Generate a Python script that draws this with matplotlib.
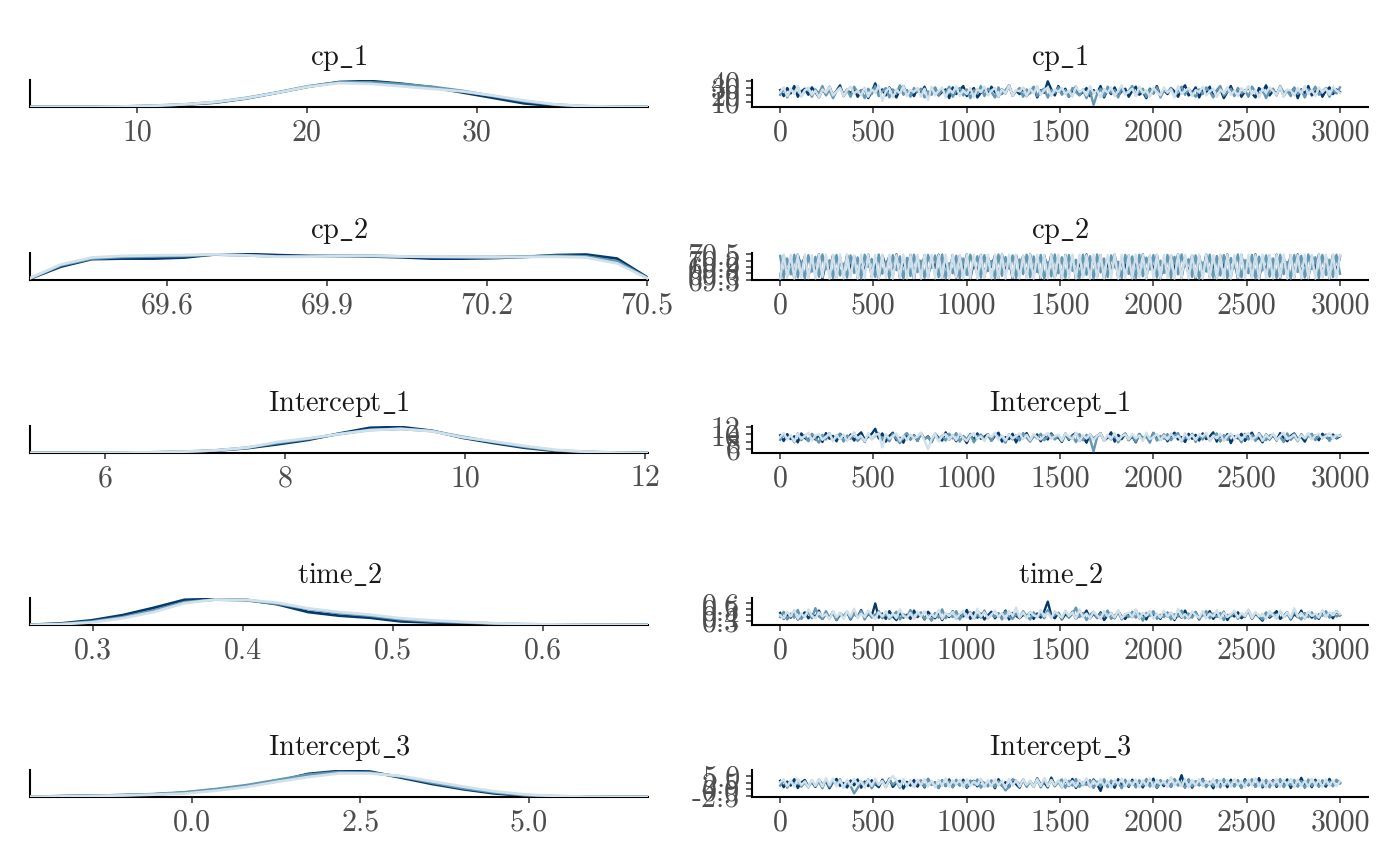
import numpy as np
import matplotlib
matplotlib.use("Agg")
import matplotlib.pyplot as plt

plt.rcParams['font.family'] = ['cmr10', 'DejaVu Serif']
plt.rcParams['mathtext.fontset'] = 'cm'
plt.rcParams['axes.unicode_minus'] = False

# ---------------- data ----------------
params = ["cp_1", "cp_2", "Intercept_1", "time_2", "Intercept_3"]
range_lo = [3.7, 69.342, 5.167, 0.258, -2.40]
range_hi = [40.1, 70.502, 12.03, 0.670, 6.77]

dens_xticks = [[10, 20, 30], [69.6, 69.9, 70.2, 70.5], [6, 8, 10, 12],
               [0.3, 0.4, 0.5, 0.6], [0.0, 2.5, 5.0]]
dens_xlabels = [["10", "20", "30"], ["69.6", "69.9", "70.2", "70.5"],
                ["6", "8", "10", "12"], ["0.3", "0.4", "0.5", "0.6"],
                ["0.0", "2.5", "5.0"]]
trace_xticks = [0, 500, 1000, 1500, 2000, 2500, 3000]
trace_yticks = [[10, 20, 30, 40], [69.3, 69.6, 69.9, 70.2, 70.5], [6, 8, 10, 12],
                [0.3, 0.4, 0.5, 0.6], [-2.5, 0.0, 2.5, 5.0]]
trace_ylabels = [["10", "20", "30", "40"], ["69.3", "69.6", "69.9", "70.2", "70.5"],
                 ["6", "8", "10", "12"], ["0.3", "0.4", "0.5", "0.6"],
                 ["-2.5", "0.0", "2.5", "5.0"]]

chain_colors = ["#03396c", "#6497b1", "#d1e1ec"]  # chain 1 (dark), 2 (mid), 3 (light)

# densities (relative heights, evenly spaced over each parameter's range)
dens_cp1_c1 = [0, 0, 0.005, 0.015, 0.04, 0.09, 0.17, 0.33, 0.55, 0.78, 0.96, 1.0, 0.9, 0.76, 0.56, 0.35, 0.14, 0.04, 0.01, 0.003, 0]
dens_cp1_c2 = [0, 0, 0.005, 0.02, 0.05, 0.1, 0.19, 0.35, 0.56, 0.8, 0.95, 0.95, 0.88, 0.78, 0.62, 0.42, 0.22, 0.09, 0.03, 0.01, 0]
dens_cp1_c3 = [0, 0.002, 0.006, 0.02, 0.05, 0.1, 0.19, 0.34, 0.55, 0.78, 0.92, 0.89, 0.8, 0.7, 0.6, 0.44, 0.25, 0.1, 0.03, 0.01, 0]

dens_cp2_c1 = [0.05, 0.5, 0.78, 0.8, 0.8, 0.84, 0.96, 0.97, 0.93, 0.9, 0.89, 0.88, 0.85, 0.8, 0.8, 0.82, 0.86, 0.93, 0.95, 0.8, 0.08]
dens_cp2_c2 = [0.06, 0.55, 0.8, 0.86, 0.88, 0.9, 0.95, 0.92, 0.88, 0.88, 0.9, 0.91, 0.88, 0.86, 0.86, 0.86, 0.88, 0.9, 0.88, 0.7, 0.06]
dens_cp2_c3 = [0.07, 0.58, 0.84, 0.9, 0.92, 0.93, 0.96, 0.92, 0.87, 0.87, 0.89, 0.9, 0.88, 0.87, 0.86, 0.85, 0.86, 0.87, 0.84, 0.62, 0.05]

dens_int1_c1 = [0, 0.003, 0.006, 0.01, 0.02, 0.04, 0.09, 0.18, 0.33, 0.5, 0.74, 0.96, 0.99, 0.85, 0.58, 0.38, 0.2, 0.08, 0.035, 0.01, 0.003]
dens_int1_c2 = [0, 0.004, 0.008, 0.012, 0.025, 0.05, 0.1, 0.2, 0.38, 0.54, 0.72, 0.88, 0.92, 0.84, 0.62, 0.42, 0.24, 0.1, 0.04, 0.012, 0.003]
dens_int1_c3 = [0.002, 0.005, 0.01, 0.015, 0.03, 0.055, 0.1, 0.2, 0.42, 0.56, 0.72, 0.87, 0.92, 0.83, 0.6, 0.44, 0.27, 0.12, 0.05, 0.015, 0.004]

dens_time2_c1 = [0.01, 0.06, 0.18, 0.38, 0.66, 0.97, 1.0, 0.97, 0.8, 0.5, 0.36, 0.28, 0.14, 0.1, 0.07, 0.04, 0.02, 0.01, 0.005, 0.002, 0]
dens_time2_c2 = [0.005, 0.04, 0.13, 0.3, 0.56, 0.88, 0.98, 0.95, 0.82, 0.62, 0.46, 0.36, 0.22, 0.14, 0.1, 0.06, 0.03, 0.015, 0.006, 0.002, 0]
dens_time2_c3 = [0.004, 0.03, 0.1, 0.26, 0.5, 0.84, 0.98, 0.97, 0.86, 0.64, 0.5, 0.4, 0.26, 0.18, 0.12, 0.07, 0.04, 0.02, 0.008, 0.003, 0]

dens_int3_c1 = [0.01, 0.03, 0.05, 0.07, 0.1, 0.16, 0.28, 0.42, 0.6, 0.88, 0.99, 0.97, 0.74, 0.5, 0.3, 0.14, 0.05, 0.02, 0.01, 0.004, 0]
dens_int3_c2 = [0.01, 0.03, 0.05, 0.07, 0.11, 0.18, 0.3, 0.45, 0.65, 0.85, 0.95, 0.93, 0.78, 0.55, 0.34, 0.18, 0.07, 0.03, 0.01, 0.004, 0]
dens_int3_c3 = [0.01, 0.02, 0.04, 0.06, 0.09, 0.13, 0.24, 0.38, 0.58, 0.76, 0.9, 0.9, 0.8, 0.6, 0.4, 0.22, 0.1, 0.04, 0.015, 0.005, 0]

# traces (thinned draws, evenly spaced over iterations 1..3000)
trace_cp1_c1 = [27, 18, 30, 22, 33, 17, 25, 29, 20, 31, 24, 16, 28, 21, 32, 19, 26, 34, 18, 27,
                22, 30, 17, 25, 29, 15, 24, 37, 21, 28, 19, 31, 23, 16, 27, 33, 20, 25, 18, 29,
                22, 32, 17, 26, 30, 19, 24, 28, 15, 31, 21, 27, 33, 18, 25, 30, 16, 23, 29, 20,
                32, 24, 17, 28, 22, 34, 19, 26, 21, 30, 18, 25, 31, 16, 27, 23, 40, 28, 19, 33,
                22, 29, 17, 26, 32, 20, 24, 30, 18, 27, 23, 33, 16, 28, 21, 31, 19, 25, 29, 17,
                26, 32, 20, 24, 15, 29, 22, 33, 18, 27, 21, 30, 25, 17, 28, 34, 19, 23, 31, 16,
                27, 22, 32, 18, 26, 29, 15, 24, 33, 20, 28, 17, 25, 31, 22, 16, 30, 24, 34, 19,
                26, 21, 32, 18, 27, 23, 30, 15, 28, 22, 33, 19, 25, 29, 17, 26, 31, 21, 28, 24]
trace_cp1_c2 = [20, 29, 16, 27, 23, 32, 18, 26, 30, 17, 28, 22, 33, 19, 27, 15, 25, 31, 21, 28,
                17, 32, 23, 27, 15, 29, 21, 33, 18, 25, 30, 16, 28, 22, 34, 20, 27, 17, 30, 24,
                29, 16, 25, 20, 31, 19, 28, 23, 32, 17, 26, 30, 19, 28, 15, 27, 22, 33, 18, 29,
                24, 16, 31, 21, 27, 34, 19, 25, 30, 17, 28, 22, 32, 18, 26, 29, 16, 27, 23, 31,
                20, 27, 17, 30, 24, 19, 28, 15, 26, 5, 21, 29, 18, 32, 23, 27, 16, 30, 22, 26,
                33, 19, 25, 29, 17, 28, 22, 31, 16, 27, 24, 30, 18, 26, 32, 20, 29, 23, 17, 28,
                21, 31, 25, 16, 27, 33, 19, 24, 29, 18, 30, 22, 27, 17, 32, 24, 20, 28, 15, 26,
                29, 19, 33, 23, 26, 18, 31, 21, 27, 16, 28, 24, 32, 20, 25, 30, 17, 27, 22, 31]
trace_cp1_c3 = [24, 31, 18, 29, 21, 33, 17, 27, 30, 20, 26, 16, 28, 23, 32, 19, 25, 30, 18, 27,
                32, 22, 26, 19, 31, 17, 28, 23, 34, 11, 25, 30, 16, 28, 22, 33, 18, 27, 24, 30,
                17, 29, 12, 32, 19, 26, 31, 16, 28, 23, 33, 18, 27, 21, 30, 16, 29, 24, 32, 19,
                26, 30, 17, 28, 22, 34, 19, 27, 25, 31, 18, 29, 22, 33, 20, 27, 31, 18, 28, 24,
                30, 21, 26, 17, 32, 24, 28, 19, 33, 22, 27, 16, 29, 23, 31, 18, 26, 34, 20, 25,
                29, 18, 32, 22, 27, 17, 30, 24, 19, 31, 23, 28, 16, 33, 21, 26, 30, 18, 27, 24,
                32, 19, 25, 29, 17, 28, 22, 31, 20, 26, 18, 30, 24, 33, 21, 27, 16, 29, 23, 31,
                25, 20, 32, 17, 28, 26, 19, 30, 22, 33, 21, 27, 18, 31, 24, 29, 20, 32, 26, 23]

trace_cp2_c1 = [69.40, 70.45, 69.50, 70.30, 69.38, 70.48, 69.90, 70.40, 69.45, 70.20,
                69.60, 70.49, 69.36, 70.10, 69.70, 70.46, 69.42, 70.35, 69.55, 70.47,
                69.80, 70.42, 69.39, 70.25, 69.65, 70.48, 69.44, 70.05, 69.37, 70.44,
                69.95, 70.40, 69.50, 70.49, 69.41, 70.15, 69.75, 70.47, 69.35, 70.38,
                69.60, 70.45, 69.43, 70.30, 69.85, 70.48, 69.38, 70.20, 69.52, 70.46,
                69.40, 70.43, 69.70, 70.49, 69.36, 70.10, 69.58, 70.47, 69.45, 70.35,
                69.90, 70.44, 69.39, 70.48, 69.62, 70.25, 69.37, 70.46, 69.80, 70.41,
                69.44, 70.49, 69.55, 70.30, 69.36, 70.45, 69.72, 70.48, 69.41, 70.20,
                69.38, 70.47, 69.62, 70.40, 69.35, 70.22, 69.48, 70.49, 69.70, 70.36,
                69.43, 70.46, 69.36, 70.12, 69.58, 70.48, 69.40, 70.33, 69.85, 70.45,
                69.37, 70.28, 69.52, 70.49, 69.41, 70.40, 69.66, 70.47, 69.36, 70.18,
                69.47, 70.44, 69.78, 70.49, 69.39, 70.30, 69.56, 70.46, 69.35, 70.42,
                69.64, 70.48, 69.42, 70.08, 69.37, 70.45, 69.88, 70.49, 69.45, 70.26,
                69.36, 70.47, 69.60, 70.38, 69.43, 70.49, 69.35, 70.16, 69.74, 70.44,
                69.50, 70.48, 69.38, 70.32, 69.68, 70.46, 69.41, 70.49, 69.54, 70.22,
                69.37, 70.43, 69.82, 70.48, 69.46, 70.36, 69.36, 70.47, 69.60, 70.40]
trace_cp2_c2 = [70.42, 69.38, 70.30, 69.55, 70.48, 69.41, 70.15, 69.36, 70.46, 69.68,
                70.38, 69.44, 70.49, 69.80, 70.22, 69.37, 70.47, 69.50, 70.05, 69.40,
                70.45, 69.62, 70.35, 69.36, 70.48, 69.90, 70.28, 69.43, 70.49, 69.58,
                70.12, 69.38, 70.46, 69.75, 70.40, 69.35, 70.33, 69.47, 70.48, 69.65,
                70.20, 69.39, 70.47, 69.85, 70.44, 69.42, 70.49, 69.36, 70.08, 69.60,
                70.43, 69.37, 70.30, 69.52, 70.48, 69.95, 70.41, 69.40, 70.46, 69.70,
                70.18, 69.36, 70.49, 69.48, 70.37, 69.82, 70.45, 69.38, 70.26, 69.56,
                70.48, 69.41, 70.40, 69.66, 70.47, 69.35, 70.12, 69.45, 70.49, 69.60,
                70.36, 69.39, 70.46, 69.72, 70.24, 69.37, 70.48, 69.53, 70.41, 69.36,
                70.49, 69.64, 70.30, 69.42, 70.45, 69.88, 70.15, 69.38, 70.47, 69.57,
                70.40, 69.36, 70.48, 69.46, 70.34, 69.78, 70.46, 69.40, 70.20, 69.62,
                70.47, 69.37, 70.38, 69.55, 70.49, 69.92, 70.27, 69.43, 70.45, 69.35,
                70.10, 69.68, 70.48, 69.39, 70.42, 69.50, 70.46, 69.37, 70.32, 69.84,
                70.49, 69.41, 70.22, 69.60, 70.47, 69.36, 70.39, 69.74, 70.45, 69.44,
                70.30, 69.38, 70.48, 69.56, 70.14, 69.35, 70.46, 69.66, 70.43, 69.40,
                70.49, 69.80, 70.36, 69.37, 70.47, 69.52, 70.25, 69.42, 70.48, 69.58]
trace_cp2_c3 = [69.36, 70.49, 69.39, 70.48, 69.35, 70.47, 69.40, 70.49, 69.37, 70.46,
                69.36, 70.48, 69.42, 70.49, 69.35, 70.47, 69.38, 70.49, 69.36, 70.48,
                69.41, 70.46, 69.35, 70.49, 69.37, 70.48, 69.39, 70.47, 69.36, 70.49,
                69.38, 70.48, 69.35, 70.46, 69.40, 70.49, 69.36, 70.48, 69.37, 70.47,
                69.35, 70.49, 69.39, 70.48, 69.36, 70.46, 69.38, 70.49, 69.35, 70.48,
                69.41, 70.47, 69.36, 70.49, 69.37, 70.48, 69.35, 70.46, 69.39, 70.49,
                69.36, 70.48, 69.38, 70.47, 69.35, 70.49, 69.40, 70.48, 69.36, 70.46,
                69.37, 70.49, 69.35, 70.48, 69.39, 70.47, 69.36, 70.49, 69.38, 70.48,
                69.35, 70.47, 69.37, 70.49, 69.36, 70.48, 69.40, 70.46, 69.35, 70.49,
                69.38, 70.48, 69.36, 70.47, 69.39, 70.49, 69.35, 70.48, 69.37, 70.46,
                69.36, 70.49, 69.41, 70.48, 69.35, 70.47, 69.38, 70.49, 69.36, 70.48,
                69.39, 70.46, 69.35, 70.49, 69.37, 70.48, 69.36, 70.47, 69.40, 70.49,
                69.35, 70.48, 69.38, 70.46, 69.36, 70.49, 69.37, 70.48, 69.35, 70.47,
                69.39, 70.49, 69.36, 70.48, 69.38, 70.46, 69.35, 70.49, 69.37, 70.48,
                69.36, 70.47, 69.40, 70.49, 69.35, 70.48, 69.38, 70.46, 69.36, 70.49,
                69.37, 70.48, 69.35, 70.47, 69.39, 70.49, 69.36, 70.48, 69.38, 70.47]

trace_int1_c1 = [9.8, 8.2, 10.1, 8.7, 9.5, 7.8, 10.3, 9.0, 8.4, 10.0, 8.6, 9.9, 7.9, 10.4, 8.8, 9.6, 8.1, 10.2, 9.3, 8.5,
                 10.0, 8.3, 9.7, 10.6, 8.6, 9.4, 10.2, 11.6, 8.9, 10.3, 8.0, 9.6, 10.5, 8.4, 9.1, 7.7, 10.1, 8.8, 9.8, 8.2,
                 10.4, 8.7, 9.5, 7.9, 10.2, 9.0, 8.3, 10.6, 8.6, 9.7, 8.1, 10.0, 9.2, 7.6, 9.9, 8.5, 10.3, 8.8, 9.4, 10.1,
                 8.3, 9.6, 10.5, 8.0, 9.3, 8.7, 10.2, 7.8, 9.8, 8.9, 10.4, 8.4, 9.5, 10.0, 8.1, 9.7, 8.6, 10.3, 8.9, 9.2,
                 7.9, 10.1, 8.5, 9.8, 10.4, 8.2, 9.4, 7.7, 10.0, 8.8, 9.6, 10.3, 8.3, 9.1, 10.6, 8.0, 9.9, 8.7, 10.2, 8.4,
                 9.5, 7.8, 10.1, 8.9, 9.7, 8.2, 10.4, 9.0, 8.5, 10.0, 8.1, 9.6, 10.5, 8.6, 9.3, 7.9, 10.2, 8.8, 9.9, 8.3,
                 10.3, 8.7, 9.4, 10.6, 8.0, 9.8, 8.4, 10.1, 7.6, 9.5, 8.9, 10.2, 8.2, 9.7, 10.5, 8.5, 9.1, 7.8, 10.0, 8.6,
                 9.9, 8.3, 10.4, 9.0, 8.1, 9.6, 10.3, 8.7, 9.4, 8.0, 10.1, 8.8, 9.7, 8.4, 10.2, 9.3, 8.6, 10.0, 8.9, 9.5]
trace_int1_c2 = [8.5, 10.0, 8.9, 9.6, 7.8, 10.3, 8.4, 9.8, 8.1, 10.2, 9.0, 7.7, 9.9, 8.6, 10.4, 8.3, 9.5, 10.1, 8.0, 9.7,
                 8.8, 10.5, 8.2, 9.4, 7.9, 10.0, 8.7, 9.6, 10.3, 8.4, 9.9, 8.1, 10.2, 8.9, 7.6, 9.5, 10.4, 8.5, 9.8, 8.2,
                 10.1, 8.8, 9.3, 7.9, 10.0, 8.6, 9.7, 8.3, 10.2, 8.9, 10.4, 8.0, 9.6, 8.7, 10.2, 7.8, 9.4, 10.0, 8.5, 9.9,
                 8.2, 10.3, 8.8, 9.5, 7.7, 10.1, 8.6, 9.8, 8.3, 10.4, 9.1, 8.0, 9.7, 8.9, 10.2, 8.4, 9.5, 10.0, 8.6, 9.8,
                 8.1, 10.3, 8.7, 9.6, 7.9, 10.1, 8.4, 9.9, 8.8, 5.3, 9.2, 10.4, 8.2, 9.7, 8.6, 10.0, 7.8, 9.5, 10.3, 8.5,
                 9.8, 8.0, 10.2, 8.9, 9.4, 7.7, 10.5, 8.3, 9.6, 8.8, 10.1, 8.4, 9.7, 10.4, 8.1, 9.3, 8.7, 10.2, 7.9, 9.9,
                 8.6, 10.0, 8.3, 9.5, 10.3, 8.0, 9.8, 8.5, 10.1, 8.9, 9.4, 7.8, 10.2, 8.6, 9.9, 8.2, 10.4, 9.1, 8.4, 9.7,
                 10.0, 8.7, 9.3, 7.9, 10.3, 8.5, 9.6, 8.1, 10.1, 8.8, 9.5, 10.2, 8.4, 9.8, 8.9, 10.0, 8.2, 9.6, 9.1, 9.8]
trace_int1_c3 = [9.3, 10.4, 8.6, 9.9, 8.0, 10.2, 8.8, 9.6, 10.5, 8.3, 9.7, 10.1, 8.5, 9.4, 10.3, 8.1, 9.8, 8.7, 10.0, 8.2,
                 9.5, 10.4, 8.9, 9.6, 8.1, 10.4, 8.6, 9.9, 10.2, 6.4, 10.1, 8.8, 9.5, 10.3, 8.2, 9.7, 8.5, 10.0, 8.9, 9.4,
                 10.5, 8.3, 5.9, 8.7, 10.2, 8.0, 9.6, 10.1, 8.6, 9.9, 8.4, 10.3, 9.0, 8.2, 9.7, 10.4, 8.8, 9.5, 8.1, 10.0,
                 9.3, 10.5, 8.5, 9.8, 8.3, 10.1, 8.9, 9.6, 10.3, 8.7, 9.9, 8.4, 10.2, 9.1, 8.6, 9.7, 10.4, 8.8, 9.5, 10.0,
                 8.3, 10.2, 9.4, 8.7, 10.5, 8.1, 9.8, 8.9, 10.1, 8.5, 9.6, 10.3, 8.2, 9.9, 8.8, 10.4, 8.4, 9.5, 10.0, 8.6,
                 10.2, 8.9, 9.7, 8.1, 10.5, 8.7, 9.3, 10.1, 8.4, 9.8, 8.6, 10.3, 9.0, 9.6, 8.2, 10.4, 8.8, 9.9, 8.5, 10.1,
                 9.4, 10.5, 8.3, 9.7, 8.9, 10.2, 8.1, 9.6, 10.3, 8.7, 10.0, 8.5, 9.8, 10.4, 8.6, 9.3, 10.1, 8.2, 9.9, 8.8,
                 10.3, 8.4, 9.6, 10.5, 8.7, 9.2, 10.0, 8.3, 9.8, 9.0, 10.4, 8.6, 9.7, 10.2, 8.9, 9.5, 10.3, 8.8, 9.9, 9.6]

trace_time2_c1 = [0.44, 0.34, 0.41, 0.36, 0.47, 0.33, 0.39, 0.45, 0.35, 0.42, 0.37, 0.48, 0.34, 0.43, 0.36, 0.46, 0.32, 0.41, 0.38, 0.45,
                  0.33, 0.44, 0.37, 0.49, 0.35, 0.42, 0.39, 0.60, 0.36, 0.43, 0.34, 0.47, 0.38, 0.32, 0.45, 0.36, 0.41, 0.34, 0.48, 0.37,
                  0.43, 0.33, 0.46, 0.39, 0.35, 0.44, 0.32, 0.42, 0.37, 0.47, 0.35, 0.41, 0.38, 0.49, 0.34, 0.45, 0.36, 0.43, 0.33, 0.40,
                  0.46, 0.35, 0.42, 0.37, 0.48, 0.33, 0.44, 0.39, 0.35, 0.41, 0.38, 0.45, 0.34, 0.43, 0.36, 0.47, 0.63, 0.40, 0.35, 0.44,
                  0.33, 0.42, 0.37, 0.46, 0.34, 0.41, 0.38, 0.48, 0.35, 0.43, 0.36, 0.45, 0.32, 0.40, 0.44, 0.35, 0.47, 0.38, 0.34, 0.42,
                  0.37, 0.49, 0.35, 0.43, 0.33, 0.46, 0.39, 0.41, 0.34, 0.45, 0.38, 0.44, 0.32, 0.42, 0.36, 0.48, 0.35, 0.40, 0.45, 0.33,
                  0.43, 0.37, 0.47, 0.34, 0.41, 0.36, 0.46, 0.32, 0.42, 0.38, 0.45, 0.35, 0.40, 0.48, 0.34, 0.43, 0.37, 0.31, 0.44, 0.36,
                  0.41, 0.47, 0.34, 0.39, 0.45, 0.33, 0.42, 0.37, 0.48, 0.35, 0.44, 0.36, 0.41, 0.34, 0.46, 0.38, 0.43, 0.35, 0.47, 0.40]
trace_time2_c2 = [0.37, 0.46, 0.33, 0.43, 0.36, 0.49, 0.34, 0.41, 0.45, 0.35, 0.52, 0.38, 0.34, 0.47, 0.36, 0.43, 0.32, 0.44, 0.38, 0.46,
                  0.34, 0.42, 0.37, 0.48, 0.33, 0.45, 0.36, 0.41, 0.47, 0.35, 0.43, 0.34, 0.40, 0.46, 0.33, 0.42, 0.37, 0.49, 0.35, 0.41,
                  0.45, 0.34, 0.39, 0.31, 0.44, 0.36, 0.50, 0.35, 0.42, 0.37, 0.47, 0.33, 0.43, 0.38, 0.45, 0.34, 0.41, 0.36, 0.48, 0.35,
                  0.42, 0.37, 0.44, 0.33, 0.46, 0.38, 0.34, 0.43, 0.36, 0.47, 0.39, 0.33, 0.45, 0.37, 0.42, 0.35, 0.49, 0.38, 0.41, 0.44,
                  0.34, 0.47, 0.36, 0.42, 0.53, 0.37, 0.44, 0.32, 0.41, 0.46, 0.35, 0.43, 0.38, 0.48, 0.34, 0.40, 0.45, 0.33, 0.42, 0.37,
                  0.46, 0.36, 0.43, 0.31, 0.44, 0.39, 0.47, 0.34, 0.41, 0.37, 0.45, 0.33, 0.42, 0.38, 0.48, 0.35, 0.43, 0.36, 0.46, 0.34,
                  0.40, 0.47, 0.35, 0.43, 0.37, 0.44, 0.32, 0.41, 0.38, 0.46, 0.34, 0.42, 0.37, 0.49, 0.35, 0.44, 0.39, 0.33, 0.45, 0.38,
                  0.43, 0.35, 0.47, 0.37, 0.42, 0.34, 0.46, 0.38, 0.33, 0.44, 0.37, 0.45, 0.34, 0.42, 0.39, 0.47, 0.36, 0.43, 0.38, 0.41]
trace_time2_c3 = [0.40, 0.35, 0.46, 0.38, 0.49, 0.34, 0.43, 0.37, 0.50, 0.39, 0.35, 0.45, 0.38, 0.42, 0.33, 0.47, 0.37, 0.44, 0.34, 0.46,
                  0.38, 0.51, 0.35, 0.43, 0.37, 0.48, 0.40, 0.34, 0.45, 0.38, 0.47, 0.36, 0.43, 0.35, 0.50, 0.39, 0.36, 0.44, 0.34, 0.46,
                  0.38, 0.47, 0.35, 0.42, 0.37, 0.49, 0.34, 0.44, 0.39, 0.46, 0.35, 0.42, 0.48, 0.36, 0.44, 0.34, 0.51, 0.38, 0.45, 0.35,
                  0.41, 0.48, 0.37, 0.44, 0.34, 0.47, 0.39, 0.53, 0.36, 0.45, 0.35, 0.46, 0.40, 0.37, 0.49, 0.38, 0.44, 0.35, 0.47, 0.41,
                  0.36, 0.48, 0.39, 0.45, 0.34, 0.50, 0.37, 0.43, 0.35, 0.46, 0.40, 0.34, 0.47, 0.38, 0.44, 0.36, 0.49, 0.35, 0.42, 0.45,
                  0.37, 0.50, 0.35, 0.44, 0.39, 0.47, 0.34, 0.43, 0.36, 0.48, 0.38, 0.45, 0.34, 0.51, 0.37, 0.42, 0.35, 0.46, 0.40, 0.36,
                  0.47, 0.35, 0.43, 0.38, 0.49, 0.34, 0.45, 0.37, 0.42, 0.48, 0.36, 0.44, 0.39, 0.50, 0.35, 0.46, 0.38, 0.43, 0.34, 0.47,
                  0.40, 0.35, 0.48, 0.37, 0.45, 0.36, 0.52, 0.38, 0.44, 0.35, 0.46, 0.39, 0.43, 0.36, 0.49, 0.37, 0.45, 0.40, 0.47, 0.42]

trace_int3_c1 = [3.2, 0.8, 2.9, 1.4, 3.8, 0.5, 2.6, 3.5, 1.1, 2.8, 0.9, 3.6, 1.7, 3.1, 0.4, 2.7, 3.9, 1.3, 2.4, 0.7,
                 3.3, 1.5, 3.7, 0.6, 2.9, 1.2, 3.4, 2.0, 0.8, 3.6, 1.6, 4.0, 0.9, 2.5, 3.2, 0.3, 2.8, 1.4, 3.5, 1.0,
                 3.1, 0.7, 3.9, 1.8, 2.6, 0.5, 3.3, 1.2, 3.7, 0.9, 2.8, 1.5, 3.6, 0.6, 2.4, 3.2, 1.1, 3.5, 1.9, 1.6,
                 2.9, 0.4, 3.8, 1.3, 2.7, 0.8, 3.4, 1.9, 0.6, 3.6, 1.4, 3.1, 0.9, 4.1, 1.7, 2.5, 0.7, 4.4, 1.5, 3.0,
                 0.8, 3.5, 1.2, 3.9, 0.5, 2.8, 1.6, 3.3, 1.0, 3.7, 1.9, -0.6, 3.4, 1.1, 2.6, 0.6, 3.8, 1.4, 3.0, 0.9,
                 3.6, 1.3, 2.9, 0.7, 3.4, 1.8, 4.0, 0.5, 2.7, 1.2, 3.3, 0.9, 3.7, 1.6, 5.3, 1.0, 3.5, 0.6, 2.8, 1.5,
                 3.9, 1.1, 2.6, 0.4, 3.4, 1.7, 3.0, 0.8, 3.6, 1.3, 2.9, 0.6, 3.8, 1.5, 3.1, 1.0, 4.2, 0.7, 2.5, 1.4,
                 3.5, 0.9, 3.2, 1.8, 3.7, 0.5, 2.8, 1.2, 4.3, 1.6, 3.0, 0.8, 3.6, 1.3, 2.7, 1.0, 3.9, 1.5, 3.3, 2.4]
trace_int3_c2 = [1.4, 3.5, 0.6, 3.0, 1.8, 3.7, 1.0, 2.6, 0.7, 3.3, 1.2, 2.8, 0.4, 3.6, 0.9, 3.1, 1.6, 3.8, 0.8, 2.7,
                 1.3, -1.5, 0.5, 2.9, 1.9, 3.7, 0.4, 2.6, 1.5, 3.2, 0.8, 3.5, 1.7, 2.9, 0.6, 3.6, 1.2, 3.3, 0.9, 2.8,
                 3.4, 1.0, 3.9, 1.6, 2.7, 0.5, 3.5, 1.3, 3.0, 0.7, 3.6, 1.4, 2.8, 0.9, 3.3, 1.8, 3.7, 0.6, 2.5, 1.1,
                 3.4, 0.8, 3.1, 1.5, -0.4, 1.0, 3.8, 3.2, 1.7, 3.5, 0.9, 2.9, 1.3, 3.6, 0.7, 3.0, 1.9, 3.4, 1.1, 2.7,
                 3.7, 0.6, 3.2, 1.4, 3.9, 0.9, 2.6, 1.6, 3.5, 0.5, 2.9, 1.2, 3.8, 0.8, 3.3, 1.7, 2.7, 0.4, 3.6, 1.3,
                 3.0, 0.7, 3.4, 1.5, 3.9, 1.0, 2.8, 0.6, 3.5, 1.8, 3.2, 0.9, 3.7, 1.4, 2.6, 0.5, 3.8, 1.1, 3.1, 1.6,
                 3.6, 0.8, 2.9, 1.3, 3.4, 0.7, 3.9, 1.7, 2.7, 1.0, 3.5, 0.6, 3.2, 1.5, 3.8, 0.9, 2.6, 1.2, 3.6, 0.7,
                 3.3, 1.4, 3.9, 0.8, 2.8, 1.6, 3.5, 1.0, 3.1, 0.5, 3.7, 1.3, 2.9, 0.9, 3.4, 1.8, 3.0, 1.1, 3.6, 2.2]
trace_int3_c3 = [2.6, 3.7, 1.2, 3.3, 0.9, 3.9, 1.6, 3.0, 0.8, 3.5, 1.3, 3.8, 1.0, 4.2, 1.5, 4.1, 1.1, 3.4, 0.7, 3.6,
                 1.4, 3.9, 1.8, 3.2, 0.6, 3.5, 1.3, 4.0, 1.7, 3.1, 0.9, 3.7, 5.0, 3.3, 1.0, 3.8, 1.2, 3.4, 0.8, 3.6,
                 1.6, 3.9, 1.1, 3.2, 0.7, 3.5, 1.4, 4.1, 1.0, 3.3, 1.8, 3.6, 0.9, 3.8, 1.3, 3.0, 1.6, 4.0, 0.8, 3.4,
                 1.2, 3.7, 1.5, 3.1, 0.6, 3.9, 1.4, 3.3, 1.0, 3.6, 1.7, 3.2, 0.9, 3.8, 1.3, 4.3, 1.1, 3.5, 1.6, 3.4,
                 0.8, 3.9, 1.4, 3.1, 1.0, 3.6, 1.7, 4.2, 0.9, 3.3, 1.5, 3.8, 1.2, 3.0, 0.7, 3.5, 1.9, 4.0, 1.1, 3.2,
                 1.6, 3.7, 0.8, 3.4, 1.3, 4.1, 1.0, 3.6, 1.8, 3.1, 0.9, 4.6, 1.5, 3.3, 1.1, 3.9, 0.7, 3.5, 1.4, 3.8,
                 1.2, 3.2, 1.7, 4.0, 0.8, 3.6, 1.3, 3.4, 1.0, 3.9, 1.6, 3.1, 0.9, 3.7, 1.4, 4.2, 1.1, 3.5, 0.7, 3.3,
                 1.5, 3.8, 1.0, 3.4, 1.8, 3.9, 0.8, 3.6, 1.3, 3.2, 1.1, 4.0, 1.6, 3.5, 0.9, 3.7, 1.4, 3.3, 1.2, 3.0]

n_iter = 3000

dens_all = [[dens_cp1_c1, dens_cp1_c2, dens_cp1_c3],
            [dens_cp2_c1, dens_cp2_c2, dens_cp2_c3],
            [dens_int1_c1, dens_int1_c2, dens_int1_c3],
            [dens_time2_c1, dens_time2_c2, dens_time2_c3],
            [dens_int3_c1, dens_int3_c2, dens_int3_c3]]
trace_all = [[trace_cp1_c1, trace_cp1_c2, trace_cp1_c3],
             [trace_cp2_c1, trace_cp2_c2, trace_cp2_c3],
             [trace_int1_c1, trace_int1_c2, trace_int1_c3],
             [trace_time2_c1, trace_time2_c2, trace_time2_c3],
             [trace_int3_c1, trace_int3_c2, trace_int3_c3]]

# ---------------- layout ----------------
W, H = 1400, 866
fig = plt.figure(figsize=(W / 100, H / 100), dpi=100)
fig.patch.set_facecolor("white")

row_bottoms_px = [107, 280, 453, 625, 797]
panel_h_px = 27
left_x = (30, 648)
right_x = (752, 1368)

title_kw = dict(fontsize=20.5, color="#1a1a1a", pad=11)
tick_kw = dict(labelsize=21.5, labelcolor="#4d4d4d", color="#333333",
               length=4.5, width=1.1, pad=4)


def tex_title(s):
    return "$\\mathrm{" + s.replace("_", "\\_") + "}$"


def style(ax):
    for s in ["top", "right"]:
        ax.spines[s].set_visible(False)
    for s in ["left", "bottom"]:
        ax.spines[s].set_linewidth(1.5)
        ax.spines[s].set_color("black")
    ax.set_facecolor("none")
    ax.tick_params(axis="both", **tick_kw)


for i, name in enumerate(params):
    yb = 1 - row_bottoms_px[i] / H
    hh = panel_h_px / H
    lo, hi = range_lo[i], range_hi[i]

    # density panel
    axd = fig.add_axes([left_x[0] / W, yb, (left_x[1] - left_x[0]) / W, hh])
    style(axd)
    ymax = 0
    for c in range(3):
        vals = np.array(dens_all[i][c])
        xs = np.linspace(lo, hi, len(vals))
        axd.plot(xs, vals, color=chain_colors[c], lw=2.0, solid_capstyle="round",
                 solid_joinstyle="round", zorder=2 + c)
        ymax = max(ymax, vals.max())
    axd.set_xlim(lo, hi)
    axd.set_ylim(0, ymax * 1.04)
    axd.set_yticks([])
    axd.set_xticks(dens_xticks[i])
    axd.set_xticklabels(dens_xlabels[i])
    axd.set_title(tex_title(name), **title_kw)

    # trace panel
    axt = fig.add_axes([right_x[0] / W, yb, (right_x[1] - right_x[0]) / W, hh])
    style(axt)
    for c in range(3):
        vals = np.array(trace_all[i][c])
        its = np.linspace(1, n_iter, len(vals))
        axt.plot(its, vals, color=chain_colors[c], lw=1.7, zorder=2 + c)
    axt.set_xlim(-0.05 * n_iter, 1.05 * n_iter)
    pad = 0.05 * (hi - lo)
    axt.set_ylim(lo - pad, hi + pad)
    axt.set_xticks(trace_xticks)
    axt.set_xticklabels([str(t) for t in trace_xticks])
    axt.set_yticks(trace_yticks[i])
    axt.set_yticklabels(trace_ylabels[i])
    axt.set_title(tex_title(name), **title_kw)

fig.savefig("out.png", dpi=100, facecolor="white")
